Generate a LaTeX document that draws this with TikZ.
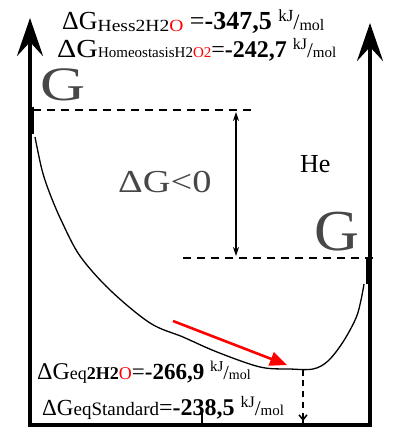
\documentclass[tikz,border=0pt]{standalone}
\usepackage{fontspec}
\usepackage{graphicx}
\setmainfont{Liberation Serif}[BoldFont={Liberation Serif Bold}]
\usetikzlibrary{arrows.meta}
\definecolor{ggray}{gray}{0.28}
\newcommand{\fs}[2]{{\fontsize{#1}{#1}\selectfont #2}}
\newcommand{\hst}[2]{\scalebox{#1}[1]{#2}}
\begin{document}
\begin{tikzpicture}[x=1pt, y=-1pt,
    axis/.style={line width=4.5pt, line join=miter, {Stealth[length=38pt, width=26pt, inset=14pt]}-{Stealth[length=38pt, width=26pt, inset=14pt]}},
    level/.style={line width=1.6pt, dash pattern=on 8pt off 6pt},
    lbl/.style={anchor=base west, inner sep=0pt}]
\useasboundingbox (0,0) rectangle (392,428);
% Axes and box
\coordinate (ltop) at (30,18);
\coordinate (lbot) at (30,425);
\coordinate (rbot) at (370,425);
\coordinate (rtop) at (370,23);
\draw[axis] (ltop) -- (lbot) -- (rbot) -- (rtop);
\draw[line width=6.5pt] (31,107) -- (31,134);
\draw[line width=6.5pt] (369,258) -- (369,284);
% Levels
\draw[level] (33,110) -- (253,110);
\draw[level] (183,258) -- (378,258);
\coordinate (dtop) at (236,112);
\coordinate (dbot) at (236,256);
\draw[line width=1.3pt, {Stealth[length=9pt, width=6pt]}-{Stealth[length=9pt, width=6pt]}] (dtop) -- (dbot);
% Free energy curve
\draw[line width=1.3pt] plot[smooth, tension=0.55] coordinates {
    (35,137) (42,170) (50,194) (62,222) (80,256) (110,290) (150,323)
    (183,337) (217,352) (260,367) (290,369) (313,369) (328,361)
    (343,342) (356,318) (361,300) (364,284)};
% Equilibrium
\coordinate (rstart) at (173,321);
\coordinate (rend) at (287,365);
\draw[red, line width=2.6pt, -{Triangle[length=17pt, width=14pt]}] (rstart) -- (rend);
\coordinate (eqbot) at (303,369);
\coordinate (eqtip) at (303,421);
\draw[line width=1.5pt] (eqbot) -- (303,376);
\draw[line width=1.5pt, dash pattern=on 6pt off 5pt, -{Straight Barb[length=5pt, width=8pt]}] (303,380) -- (eqtip);
\draw[line width=1.5pt] (303,414) -- (303,425);
\draw[line width=1.3pt] (202,412) -- (202,425);
% Labels
\node[lbl, text=ggray] (gleft) at (40,100) {\fs{48}{\hst{1.3}{G}}};
\node[lbl, text=ggray] (gright) at (314,250) {\fs{58}{\hst{1.07}{G}}};
\node[lbl, text=ggray] (dglt) at (118,192) {\fs{32}{\hst{1.2}{ΔG<0}}};
\node[lbl] (he) at (300,172) {\fs{26}{He}};
\node[lbl] (hess) at (62,30) {\fs{26}{ΔG}\raisebox{-2pt}{\fs{17}{\hst{1.15}{Hess2H2\textcolor{red}{O}}}}\fs{26}{ =\textbf{-347,5} }\raisebox{8pt}{\fs{17}{kJ}}\fs{22}{/}\raisebox{-1pt}{\fs{16}{mol}}};
\node[lbl] (homeo) at (57,57) {\fs{26}{\hst{1.15}{ΔG}}\fs{15}{HomeostasisH2\textcolor{red}{O2}}\fs{24}{=\textbf{-242,7} }\raisebox{8pt}{\fs{16}{kJ}}\fs{21}{/}\fs{15}{mol}};
\node[lbl] (eqw) at (37,379) {\fs{24}{ΔG}\fs{18}{eq\textbf{2H2}\textcolor{red}{O}}\fs{23}{=\textbf{-266,9} }\raisebox{8pt}{\fs{15}{kJ}}\fs{20}{/}\fs{14}{mol}};
\node[lbl] (eqs) at (42,415) {\fs{23}{ΔG}\fs{19}{eqStandard}\fs{24}{=\textbf{-238,5} }\raisebox{8pt}{\fs{16}{kJ}}\fs{21}{/}\fs{15}{mol}};
\end{tikzpicture}
\end{document}
